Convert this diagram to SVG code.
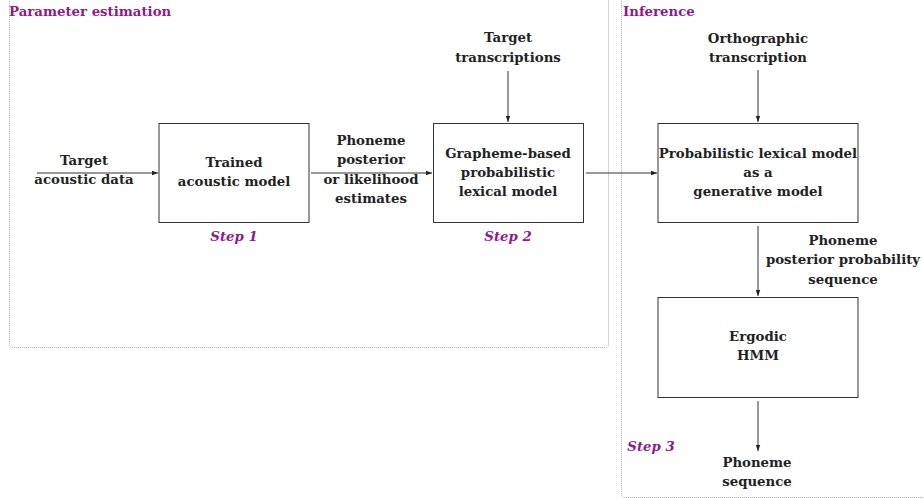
<svg xmlns="http://www.w3.org/2000/svg" width="924" height="499" viewBox="0 0 924 499">
<defs>
<marker id="ah" viewBox="0 0 6 6" refX="6" refY="3" markerWidth="6" markerHeight="6" orient="auto" markerUnits="userSpaceOnUse">
<path d="M0,0.8 L6,3 L0,5.2 Z" fill="#222"/>
</marker>
<style>
.t{font-family:"DejaVu Serif","Liberation Serif",serif;font-weight:bold;font-size:13.3px;fill:#222;text-anchor:middle}
.h{font-family:"DejaVu Serif","Liberation Serif",serif;font-weight:bold;font-size:13.3px;fill:#8e1a8c}
.s{font-family:"DejaVu Serif","Liberation Serif",serif;font-weight:bold;font-style:italic;font-size:13.3px;fill:#8e1a8c;text-anchor:middle}
.box{fill:#fff;stroke:#333;stroke-width:1}
.reg{fill:none;stroke:#aaa;stroke-width:1;stroke-dasharray:1,1}
.c{stroke:#333;stroke-width:1;fill:none;marker-end:url(#ah)}
</style>
</defs>
<rect width="924" height="499" fill="#fff"/>
<g id="regions">
<rect class="reg" x="9.5" y="-20" width="599" height="367.5" rx="3"/>
<rect class="reg" x="621.5" y="-20" width="320" height="517.5" rx="3"/>
<text class="h" x="9" y="16">Parameter estimation</text>
<text class="h" x="623" y="16">Inference</text>
</g>
<g id="connectors">
<line class="c" x1="37" y1="173" x2="158" y2="173"/>
<line class="c" x1="311" y1="173" x2="432" y2="173"/>
<line class="c" x1="586" y1="173" x2="657" y2="173"/>
<line class="c" x1="508" y1="71" x2="508" y2="122"/>
<line class="c" x1="758" y1="70" x2="758" y2="122"/>
<line class="c" x1="758" y1="226" x2="758" y2="296"/>
<line class="c" x1="758" y1="401" x2="758" y2="451"/>
</g>
<g id="input-acoustic">
<text class="t" x="84" y="165">Target</text>
<text class="t" x="84" y="184">acoustic data</text>
</g>
<g id="trained-acoustic-model">
<rect class="box" x="159" y="123.5" width="150" height="99"/>
<text class="t" x="234" y="167">Trained</text>
<text class="t" x="234" y="186">acoustic model</text>
<text class="s" x="234" y="241">Step 1</text>
</g>
<g id="phoneme-estimates">
<text class="t" x="371" y="145">Phoneme</text>
<text class="t" x="371" y="164">posterior</text>
<text class="t" x="371" y="184">or likelihood</text>
<text class="t" x="371" y="203">estimates</text>
</g>
<g id="target-transcriptions">
<text class="t" x="508" y="42">Target</text>
<text class="t" x="508" y="62">transcriptions</text>
</g>
<g id="grapheme-lexical-model">
<rect class="box" x="433.5" y="123.5" width="150" height="99"/>
<text class="t" x="508" y="158">Grapheme-based</text>
<text class="t" x="508" y="177">probabilistic</text>
<text class="t" x="508" y="196">lexical model</text>
<text class="s" x="508" y="241">Step 2</text>
</g>
<g id="orthographic-transcription">
<text class="t" x="758" y="43">Orthographic</text>
<text class="t" x="758" y="62">transcription</text>
</g>
<g id="generative-model">
<rect class="box" x="658" y="123.5" width="200" height="99"/>
<text class="t" x="758" y="158">Probabilistic lexical model</text>
<text class="t" x="758" y="177">as a</text>
<text class="t" x="758" y="196">generative model</text>
</g>
<g id="posterior-sequence">
<text class="t" x="843" y="245">Phoneme</text>
<text class="t" x="843" y="264">posterior probability</text>
<text class="t" x="843" y="284">sequence</text>
</g>
<g id="ergodic-hmm">
<rect class="box" x="658" y="297.5" width="200" height="100"/>
<text class="t" x="758" y="341">Ergodic</text>
<text class="t" x="758" y="360">HMM</text>
</g>
<g id="phoneme-sequence">
<text class="t" x="757" y="467">Phoneme</text>
<text class="t" x="757" y="486">sequence</text>
<text class="s" x="651" y="451">Step 3</text>
</g>
</svg>
